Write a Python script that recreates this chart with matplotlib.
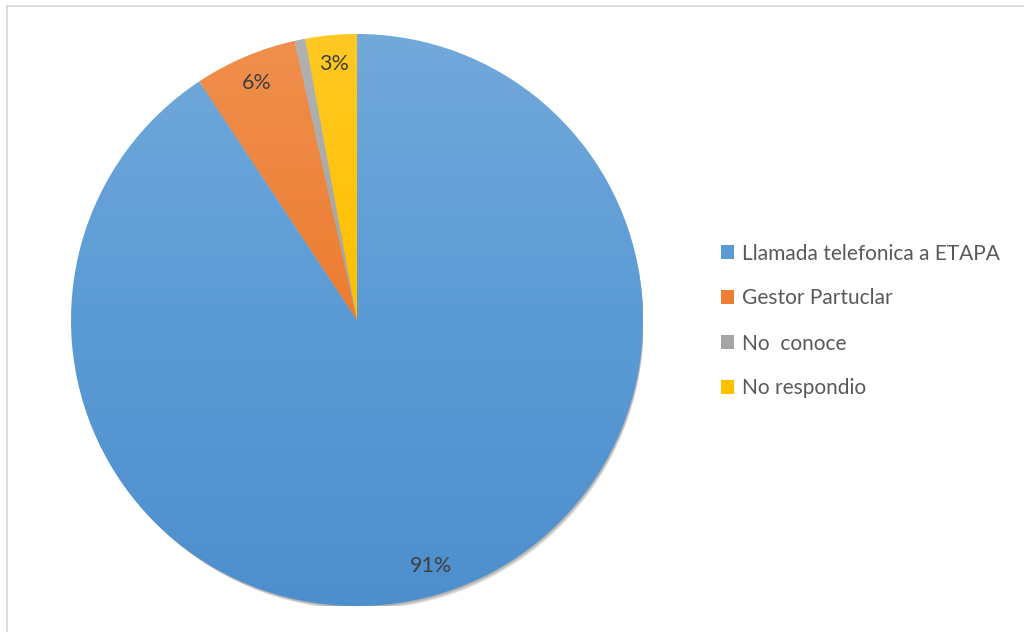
import numpy as np
import matplotlib.pyplot as plt
from matplotlib.patches import Circle
from matplotlib.lines import Line2D

plt.rcParams['font.family'] = ['Lato', 'DejaVu Sans']

# Data (percent of answers)
categories = ["Llamada telefonica a ETAPA", "Gestor Partuclar", "No  conoce", "No respondio"]
values = [90.7, 5.8, 0.6, 2.9]
colors = ["#5B9BD5", "#ED7D31", "#A5A5A5", "#FFC000"]
show_label = [True, True, False, True]

fig = plt.figure(figsize=(10.24, 6.32), dpi=100)

# chart frame (only top/left edges visible in the picture)
fig.add_artist(Line2D([6.5 / 1024, 6.5 / 1024], [0, 1 - 5.5 / 632], color="#d9d9d9", lw=1.3))
fig.add_artist(Line2D([6.5 / 1024, 1], [1 - 5.5 / 632, 1 - 5.5 / 632], color="#d9d9d9", lw=1.3))

# pie axes: center (357, 320) px, radius 286 px
cx, cy, r = 357, 320, 286
ax = fig.add_axes([(cx - r) / 1024, (632 - cy - r) / 632, 2 * r / 1024, 2 * r / 632])
ax.set_xlim(-1, 1)
ax.set_ylim(-1, 1)
ax.set_aspect("equal")
ax.axis("off")

# soft shadow
for k in range(10):
    off = 0.003 + 0.0022 * k
    ax.add_patch(Circle((off * 0.5, -off), 1.0 - 0.001 * k, color="black", alpha=0.035, lw=0, zorder=0))

wedges, _ = ax.pie(values, colors=colors, startangle=90, counterclock=False,
                   radius=1.0, center=(0, 0), wedgeprops=dict(linewidth=0))
for w in wedges:
    w.set_zorder(1)

# top-to-bottom shading over the pie (lighter top, deeper blue bottom)
t = np.linspace(0, 1, 256).reshape(-1, 1)
rgba = np.zeros((256, 1, 4))
top = t < 0.5
rgba[..., 0] = np.where(top, 1.0, 0.18)
rgba[..., 1] = np.where(top, 1.0, 0.44)
rgba[..., 2] = np.where(top, 1.0, 0.74)
rgba[..., 3] = np.where(top, 0.14 * (1 - 2 * t), 0.3 * (2 * t - 1))
im = ax.imshow(rgba, extent=(-1, 1, -1, 1), origin="upper", aspect="auto", zorder=2)
clip = Circle((0, 0), 1.0, transform=ax.transData)
im.set_clip_path(clip)

# percentage labels
total = sum(values)
start = 90.0
for v, show in zip(values, show_label):
    span = 360.0 * v / total
    mid = np.deg2rad(start - span / 2)
    start -= span
    if show:
        ax.text(0.9 * np.cos(mid), 0.9 * np.sin(mid), f"{v / total * 100:.0f}%",
                ha="center", va="center", fontsize=15.5, color="#404040", zorder=3)

ax.set_xlim(-1, 1)
ax.set_ylim(-1, 1)

leg = fig.legend(wedges, categories, loc="center left", bbox_to_anchor=(702 / 1024, 1 - 321 / 632),
                 frameon=False, fontsize=15, labelcolor="#595959", handlelength=0.65,
                 handleheight=0.65, handletextpad=0.35, labelspacing=1.2)

fig.savefig("out.png", dpi=100)
